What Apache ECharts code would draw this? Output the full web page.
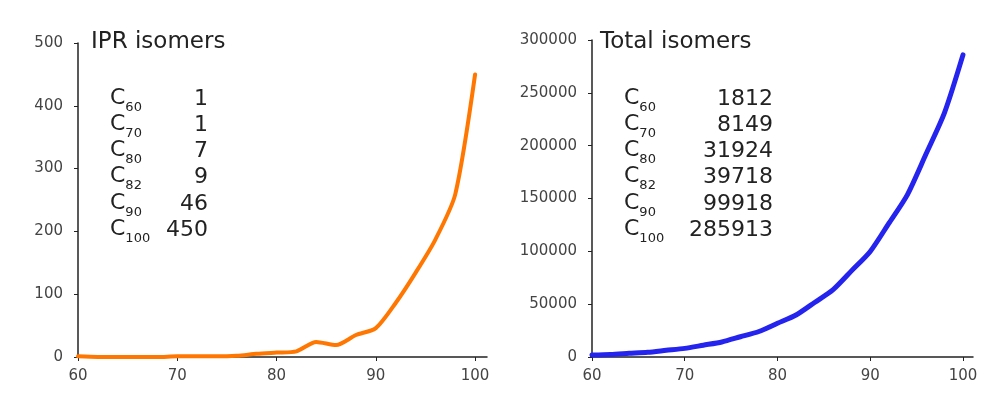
<!DOCTYPE html>
<html>
<head>
<meta charset="utf-8">
<script src="https://cdn.jsdelivr.net/npm/echarts@6/dist/echarts.min.js"></script>
<style>
html,body{margin:0;padding:0;background:#fff;}
#chart{width:999px;height:397px;}
</style>
</head>
<body>
<div id="chart"></div>
<script>
// Fullerene size (number of carbon atoms)
const carbonCounts = [60,62,64,66,68,70,72,74,76,78,80,82,84,86,88,90,92,94,96,98,100];
// IPR isomer counts
const iprIsomers = [1,0,0,0,0,1,1,1,2,5,7,9,24,19,35,46,86,134,187,259,450];
// Total isomer counts
const totalIsomers = [1812,2385,3465,4478,6332,8149,11190,14246,19151,24109,31924,39718,51592,63761,81738,99918,126409,153493,191839,231017,285913];
// Sizes listed in the annotation tables
const tableSizes = [60,70,80,82,90,100];
// Tick labels
const xTicks = [60,70,80,90,100];
const iprYTicks = [0,100,200,300,400,500];
const totalYTicks = [0,50000,100000,150000,200000,250000,300000];

const FONT = 'DejaVu Sans';
const AXIS_COLOR = '#222';
const LABEL_COLOR = '#444';

const iprPairs = carbonCounts.map((c,i)=>[c, iprIsomers[i]]);
const totalPairs = carbonCounts.map((c,i)=>[c, totalIsomers[i]]);

function xAxisCfg(gridIndex, max){
  return {
    type:'value', gridIndex, min:60, max, interval:10,
    axisLine:{show:true, lineStyle:{color:AXIS_COLOR, width:1.5}},
    axisTick:{show:true, length:4, customValues:xTicks, lineStyle:{color:AXIS_COLOR}},
    axisLabel:{customValues:xTicks, color:LABEL_COLOR, fontFamily:FONT, fontSize:15, margin:12,
               formatter:v=>String(v)},
    splitLine:{show:false}
  };
}
function yAxisCfg(gridIndex, ticks){
  return {
    type:'value', gridIndex, min:ticks[0], max:ticks[ticks.length-1], interval:ticks[1]-ticks[0],
    axisLine:{show:true, lineStyle:{color:AXIS_COLOR, width:1.5}},
    axisTick:{show:true, length:4, lineStyle:{color:AXIS_COLOR}},
    axisLabel:{color:LABEL_COLOR, fontFamily:FONT, fontSize:15, margin:15, formatter:v=>String(v)},
    splitLine:{show:false}
  };
}

function tableElements(x0, valueRight, values){
  const els = [];
  tableSizes.forEach((n, r) => {
    const y = 87 + r*26.2;
    const idx = carbonCounts.indexOf(n);
    els.push({
      type:'text', left:x0, top:y,
      style:{
        text:'{c|C}{s|' + n + '}',
        rich:{
          c:{fontFamily:FONT, fontSize:22, fill:'#222', lineHeight:26, verticalAlign:'bottom'},
          s:{fontFamily:FONT, fontSize:13, fill:'#222', lineHeight:16, verticalAlign:'bottom', padding:[0,0,-5,0]}
        }
      }
    });
    els.push({
      type:'text', x:valueRight, y:y+1,
      style:{text:String(values[idx]), fontFamily:FONT, fontSize:22, fill:'#222', align:'right', verticalAlign:'top'}
    });
  });
  return els;
}

const chart = echarts.init(document.getElementById('chart'), null, {renderer:'canvas'});
chart.setOption({
  backgroundColor:'#fff',
  animation:false,
  grid:[
    {left:78, top:43, width:409, bottom:40},
    {left:592, top:40, width:381, bottom:40}
  ],
  xAxis:[ xAxisCfg(0, 101.2), xAxisCfg(1, 101.08) ],
  yAxis:[ yAxisCfg(0, iprYTicks), yAxisCfg(1, totalYTicks) ],
  series:[
    {type:'line', xAxisIndex:0, yAxisIndex:0, data:iprPairs, showSymbol:false, smooth:0.25,
     lineStyle:{color:'#ff7700', width:4, join:'round', cap:'round'}, itemStyle:{color:'#ff7700'}, z:3},
    {type:'line', xAxisIndex:1, yAxisIndex:1, data:totalPairs, showSymbol:false, smooth:0.25,
     lineStyle:{color:'#2424ee', width:5, join:'round', cap:'round'}, itemStyle:{color:'#2424ee'}, z:3}
  ],
  graphic:[
    {type:'text', x:91, y:31, style:{text:'IPR isomers', fontFamily:FONT, fontSize:23, fill:'#222'}},
    {type:'text', x:600, y:31, style:{text:'Total isomers', fontFamily:FONT, fontSize:23, fill:'#222'}},
    ...tableElements(110, 208, iprIsomers),
    ...tableElements(624, 773, totalIsomers)
  ]
});
</script>
</body>
</html>
